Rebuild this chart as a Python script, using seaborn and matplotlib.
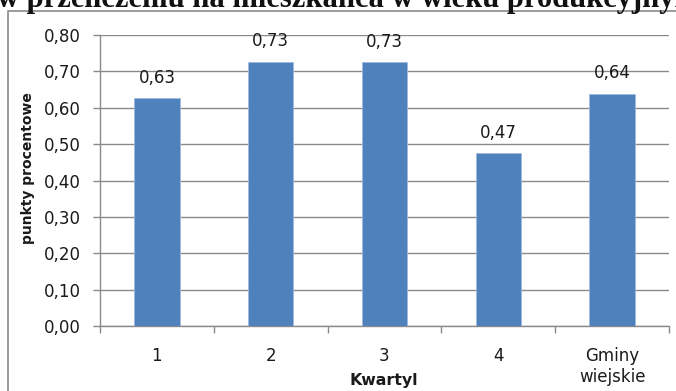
import matplotlib
matplotlib.use("Agg")
import matplotlib.pyplot as plt
import matplotlib.patches as mpatches
import seaborn as sns
import pandas as pd

categories = ["1", "2", "3", "4", "Gminy\nwiejskie"]
values = [0.627, 0.727, 0.726, 0.475, 0.639]
value_labels = ["0,63", "0,73", "0,73", "0,47", "0,64"]
y_ticks = [0.0, 0.1, 0.2, 0.3, 0.4, 0.5, 0.6, 0.7, 0.8]
y_tick_labels = ["0,00", "0,10", "0,20", "0,30", "0,40", "0,50", "0,60", "0,70", "0,80"]
title = "w przeliczeniu na mieszkańca w wieku produkcyjnym"

sns.set_style("white")
plt.rcParams["font.family"] = ["DejaVu Sans"]
FS = 12
TXT = "#1a1a1a"
GRID = "#8a8a8a"

W, H = 676, 391
fig = plt.figure(figsize=(W / 100, H / 100), dpi=100)

# outer chart frame, running off the right and bottom edges
frame = mpatches.Rectangle((8 / W, -0.05), 1.2, (H - 11) / H + 0.05,
                           transform=fig.transFigure, fill=False,
                           edgecolor="#8a8a8a", linewidth=1.2)
fig.patches.append(frame)

# title, cropped at the top
fig.text(-0.004, 1 - 7 / H, title, family="Liberation Serif", weight="bold",
         fontsize=22, ha="left", va="baseline", color="#111111")

ax = fig.add_axes([100 / W, (H - 326) / H, 569 / W, 291 / H])
df = pd.DataFrame({"kat": categories, "val": values})
sns.barplot(data=df, x="kat", y="val", ax=ax, color="#4F81BD", saturation=1,
            width=0.4, edgecolor="#9fb9dc", linewidth=0.6, zorder=3)

ax.set_ylim(0, 0.8)
ax.set_xlim(-0.5, 4.5)
ax.set_yticks(y_ticks)
ax.set_yticklabels(y_tick_labels)
ax.yaxis.grid(True, color=GRID, linewidth=1.0, zorder=0)
ax.set_axisbelow(True)
for s in ["top", "right"]:
    ax.spines[s].set_visible(False)
for s in ["left", "bottom"]:
    ax.spines[s].set_color(GRID)
    ax.spines[s].set_linewidth(1.0)

ax.tick_params(axis="y", which="major", length=5, width=1.0, color=GRID,
               labelsize=FS, labelcolor=TXT, pad=9, left=True)
ax.set_xticks(range(len(categories)))
ax.set_xticklabels(categories, linespacing=1.2)
ax.tick_params(axis="x", which="major", length=0, labelsize=FS,
               labelcolor=TXT, pad=15)
ax.set_xticks([i - 0.5 for i in range(len(categories) + 1)], minor=True)
ax.tick_params(axis="x", which="minor", length=5, width=1.0, color=GRID,
               bottom=True)

for i, (v, lab) in enumerate(zip(values, value_labels)):
    ax.text(i, v + 0.031, lab, ha="center", va="bottom", fontsize=FS,
            color=TXT)

ax.set_xlabel("")
ax.set_ylabel("")
fig.text(384 / W, 1 - 381 / H, "Kwartyl", ha="center", va="center",
         fontsize=11.3, weight="bold", color=TXT)
fig.text(28 / W, 1 - 168 / H, "punkty procentowe", ha="center", va="center",
         rotation=90, fontsize=10, weight="bold", color=TXT)

fig.savefig("out.png", dpi=100)
